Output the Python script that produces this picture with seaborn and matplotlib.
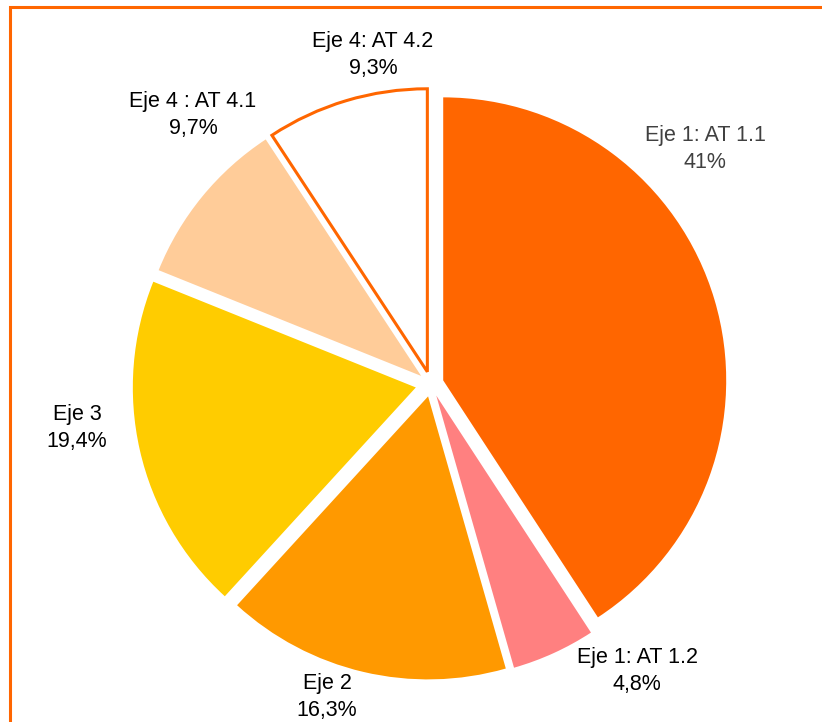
import matplotlib
matplotlib.use("Agg")
import matplotlib.pyplot as plt
import matplotlib.patches as mpatches
import seaborn as sns

# data, clockwise from 12 o'clock
categories = ["Eje 1: AT 1.1", "Eje 1: AT 1.2", "Eje 2", "Eje 3", "Eje 4 : AT 4.1", "Eje 4: AT 4.2"]
shares = [41.0, 4.8, 16.3, 19.4, 9.7, 9.3]
pct_labels = ["41%", "4,8%", "16,3%", "19,4%", "9,7%", "9,3%"]

colors = ["#FF6600", "#FF8080", "#FF9900", "#FFCC00", "#FFCC99", "#FFFFFF"]
text_colors = ["#404040", "#000000", "#000000", "#000000", "#000000", "#000000"]

sns.set_style("white")
plt.rcParams["font.family"] = ["Liberation Sans", "DejaVu Sans"]

W, H = 822, 722
fig = plt.figure(figsize=(W / 100, H / 100), dpi=100)
ax = fig.add_axes([0, 0, 1, 1])

# pie center and radius in pixels
cx, cy, R = 431, 384, 283

wedges, _ = ax.pie(
    shares,
    colors=colors,
    startangle=90,
    counterclock=False,
    explode=[0.045, 0.045, 0.045, 0.055, 0.045, 0.045],
    wedgeprops=dict(linewidth=0),
)
# last slice: white with orange outline
wedges[-1].set_edgecolor("#FF6600")
wedges[-1].set_linewidth(2.2)
wedges[-1].set_joinstyle("miter")

ax.set_xlim(-cx / R, (W - cx) / R)
ax.set_ylim(-(H - cy) / R, cy / R)
ax.set_aspect("auto")
ax.axis("off")

# label centers in pixels (x, y from top)
label_pos = [(705, 149), (637, 671), (327, 697), (77, 428), (193, 115), (373, 55)]
for cat, pct, (lx, ly), tc in zip(categories, pct_labels, label_pos, text_colors):
    fig.text(lx / W, 1 - ly / H, f"{cat}\n{pct}", ha="center", va="center",
             fontsize=15.5, color=tc, linespacing=1.4)

# orange frame, runs off the right and bottom edges
frame = mpatches.Rectangle((10 / W, -0.1), 1.2, 1.1 - 7 / H, transform=fig.transFigure,
                           fill=False, edgecolor="#FF6600", linewidth=2.2)
fig.add_artist(frame)

fig.savefig("out.png", dpi=100, facecolor="white")
